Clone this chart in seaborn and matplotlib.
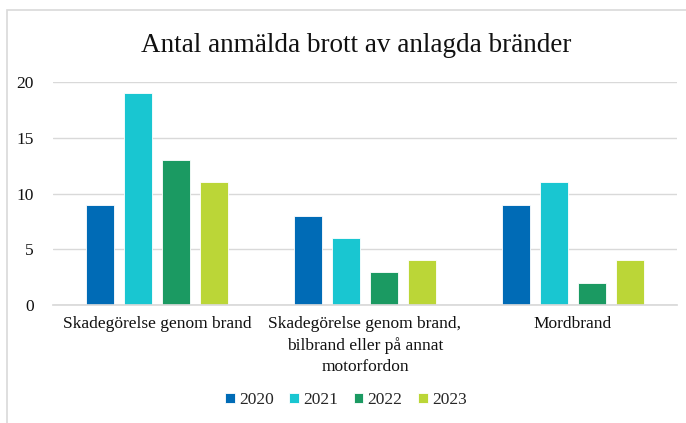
import matplotlib
matplotlib.use("Agg")
import matplotlib.pyplot as plt
from matplotlib.patches import Rectangle
import pandas as pd
import seaborn as sns

# ---- data ----------------------------------------------------------
categories = [
    "Skadegörelse genom brand",
    "Skadegörelse genom brand,\nbilbrand eller på annat\nmotorfordon",
    "Mordbrand",
]
years = ["2020", "2021", "2022", "2023"]
values_2020 = [9, 8, 9]
values_2021 = [19, 6, 11]
values_2022 = [13, 3, 2]
values_2023 = [11, 4, 4]
colors = ["#006BB6", "#19C6D1", "#1B9A62", "#BBD637"]

rows = []
for year, vals in zip(years, [values_2020, values_2021, values_2022, values_2023]):
    for cat, v in zip(categories, vals):
        rows.append({"category": cat, "year": year, "count": v})
df = pd.DataFrame(rows)

# ---- plot ----------------------------------------------------------
sns.set_theme(style="white")
plt.rcParams["font.family"] = ["Liberation Serif", "DejaVu Serif"]

fig = plt.figure(figsize=(6.86, 4.23), dpi=100)
ax = fig.add_axes([53 / 686, 1 - 305 / 423, 624 / 686, 223 / 423])

sns.barplot(data=df, x="category", y="count", hue="year", palette=colors,
            saturation=1, width=0.73, gap=0.24, edgecolor="white",
            linewidth=0.6, ax=ax, legend=True)

ax.set_ylim(0, 20)
ax.set_xlim(-0.5, 2.5)
ax.set_yticks([0, 5, 10, 15, 20])
ax.yaxis.grid(True, color="#D9D9D9", linewidth=1)
ax.set_axisbelow(True)
ax.set_xlabel("")
ax.set_ylabel("")
for s in ["top", "right", "left"]:
    ax.spines[s].set_visible(False)
ax.spines["bottom"].set_color("#D9D9D9")
ax.tick_params(axis="both", length=0, labelsize=12.5, colors="#111111")
ax.tick_params(axis="x", pad=8)
ax.tick_params(axis="y", pad=14)
for lbl in ax.get_xticklabels():
    lbl.set_multialignment("center")
    lbl.set_linespacing(1.4)

handles, labels = ax.get_legend_handles_labels()
ax.get_legend().remove()
fig.legend(handles, labels, loc="center", bbox_to_anchor=(346 / 686, 1 - 400 / 423),
           ncol=4, frameon=False, fontsize=12.5, handlelength=0.55,
           handleheight=0.55, handletextpad=0.25, columnspacing=0.9)

fig.text(356 / 686, 1 - 45 / 423, "Antal anmälda brott av anlagda bränder",
         ha="center", va="center", fontsize=19.5, color="#111111")

# chart border
fig.patches.append(Rectangle((7 / 686, -0.1), 1.2, 0.1 + 1 - 10 / 423,
                             transform=fig.transFigure, fill=False,
                             edgecolor="#D9D9D9", linewidth=1.2))

fig.savefig("out.png", dpi=100)
